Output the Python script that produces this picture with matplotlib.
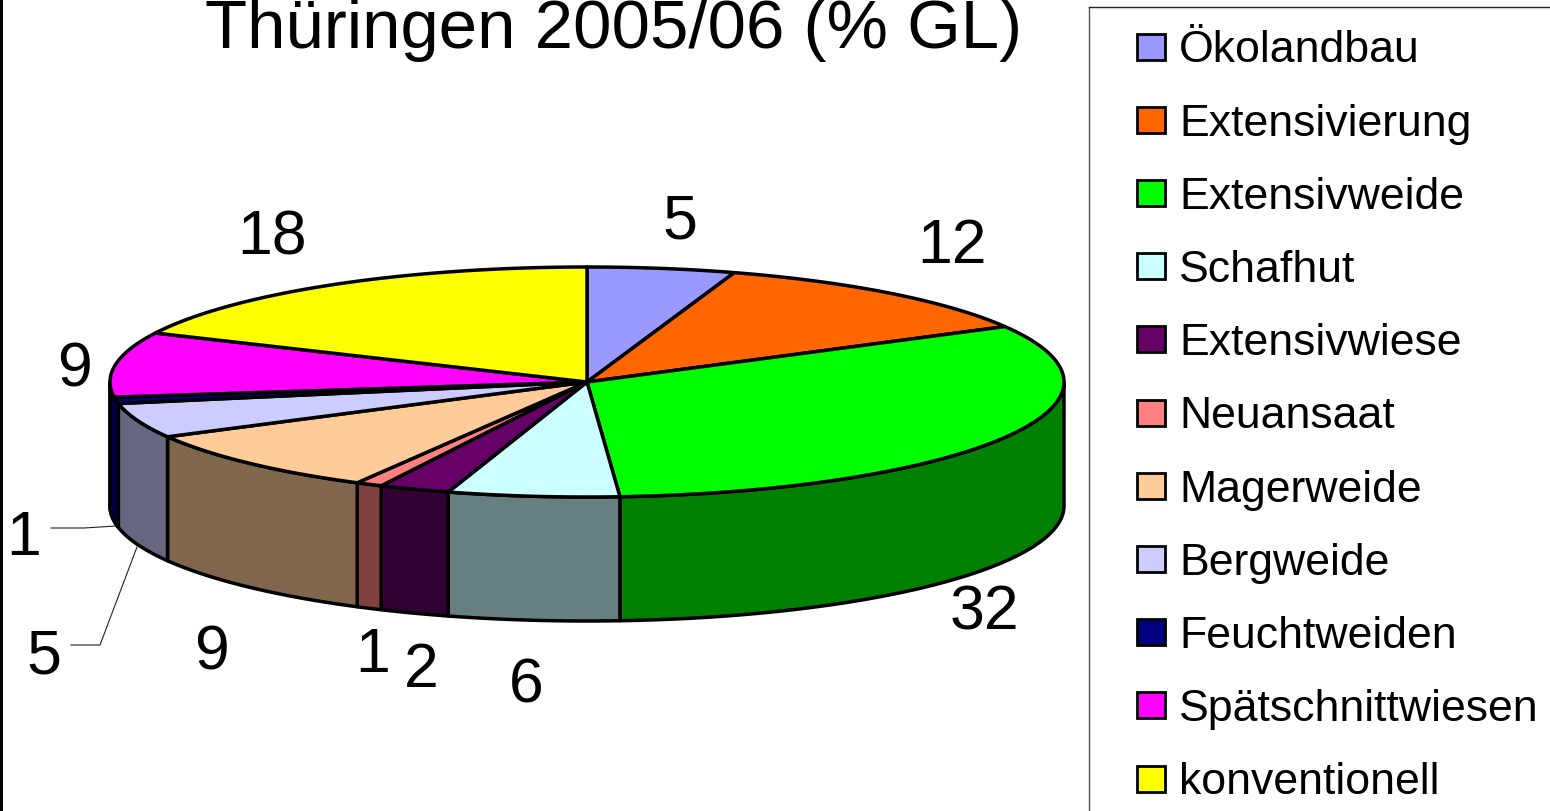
import numpy as np
import matplotlib
matplotlib.use('Agg')
import matplotlib.pyplot as plt
from matplotlib.patches import Polygon, Rectangle

plt.rcParams['font.family'] = ['Liberation Sans', 'DejaVu Sans']

title = 'Thüringen 2005/06 (% GL)'
categories = ['Ökolandbau', 'Extensivierung', 'Extensivweide', 'Schafhut', 'Extensivwiese', 'Neuansaat',
              'Magerweide', 'Bergweide', 'Feuchtweiden', 'Spätschnittwiesen', 'konventionell']
# shares read from the slice edges, the labels only show them rounded
shares = [5, 12, 31.9, 5.8, 2.4, 0.9, 9.1, 4.9, 0.9, 9.1, 18]
labels = [5, 12, 32, 6, 2, 1, 9, 5, 1, 9, 18]
colors = ['#9999FF', '#FF6600', '#00FF00', '#CCFFFF', '#660066', '#FF8080',
          '#FFCC99', '#CCCCFF', '#000080', '#FF00FF', '#FFFF00']

# label position relative to the middle of the slice rim, pixels
label_dx = [18, 61, -21, -7, 7, 4, -37, -94, -92, -41, -59]
label_dy = [-46, -47, 176, 190, 181, 171, 190, 236, 138, 6, -47]

# pie geometry in pixels
CX, CY = 587, 382
RX, RY = 477, 115
DEPTH = 124
LW = 2.5


def rim(theta):
    # theta is clockwise from the top of the pie, degrees
    t = np.radians(theta)
    return CX + RX * np.sin(t), CY - RY * np.cos(t)


fig = plt.figure(figsize=(15.5, 8.11), dpi=100)
ax = fig.add_axes([0, 0, 1, 1])
ax.set_xlim(0, 1550)
ax.set_ylim(811, 0)
ax.axis('off')

edges = np.cumsum([0] + shares) * 3.6

# side walls, only the front half of the pie shows one
for i, c in enumerate(colors):
    a = max(edges[i], 90)
    b = min(edges[i + 1], 270)
    # the wall of the last slice before the far left takes the whole corner
    if 255 < b < 270:
        b = 270
    if a >= 255 + 5 and edges[i] > 262:
        continue
    if b <= a:
        continue
    x, y = rim(np.linspace(a, b, 80))
    pts = np.r_[np.c_[x, y], np.c_[x, y + DEPTH][::-1]]
    rgb = np.array(matplotlib.colors.to_rgb(c)) * 0.5
    ax.add_patch(Polygon(pts, closed=True, fc=rgb, ec='black', lw=LW, joinstyle='round', zorder=2))

# top faces
for i, c in enumerate(colors):
    x, y = rim(np.linspace(edges[i], edges[i + 1], 80))
    pts = np.r_[[[CX, CY]], np.c_[x, y]]
    ax.add_patch(Polygon(pts, closed=True, fc=c, ec='black', lw=LW, joinstyle='round', zorder=3))

# value labels
for i, lab in enumerate(labels):
    x, y = rim((edges[i] + edges[i + 1]) / 2)
    ax.text(x + label_dx[i], y + label_dy[i], str(lab), fontsize=45, ha='center', va='center', color='black', zorder=5)

# leader lines of the two small labels
ax.plot([51, 84, 116], [528, 528, 526], color='#222222', lw=0.8, zorder=4)
ax.plot([71, 100, 137], [645, 645, 547], color='#222222', lw=0.8, zorder=4)

ax.text(614, 48, title, fontsize=49.7, ha='center', va='baseline', color='black')

# legend box runs off the picture on the right and at the bottom
ax.plot([1089, 1089], [820, 7], color='#555555', lw=1.0)
ax.plot([1089, 1560], [7, 7], color='#222222', lw=1.0)
for i, name in enumerate(categories):
    yc = 46.5 + i * 73.2
    ax.add_patch(Rectangle((1137, yc - 13), 28, 26, fc=colors[i], ec='black', lw=2.0, zorder=3))
    ax.text(1179, yc, name, fontsize=32.1, ha='left', va='center_baseline', color='black')

# black bar at the left edge
ax.add_patch(Rectangle((0, 0), 3, 811, fc='black', ec='none', zorder=6))

fig.savefig('out.png', dpi=100)
